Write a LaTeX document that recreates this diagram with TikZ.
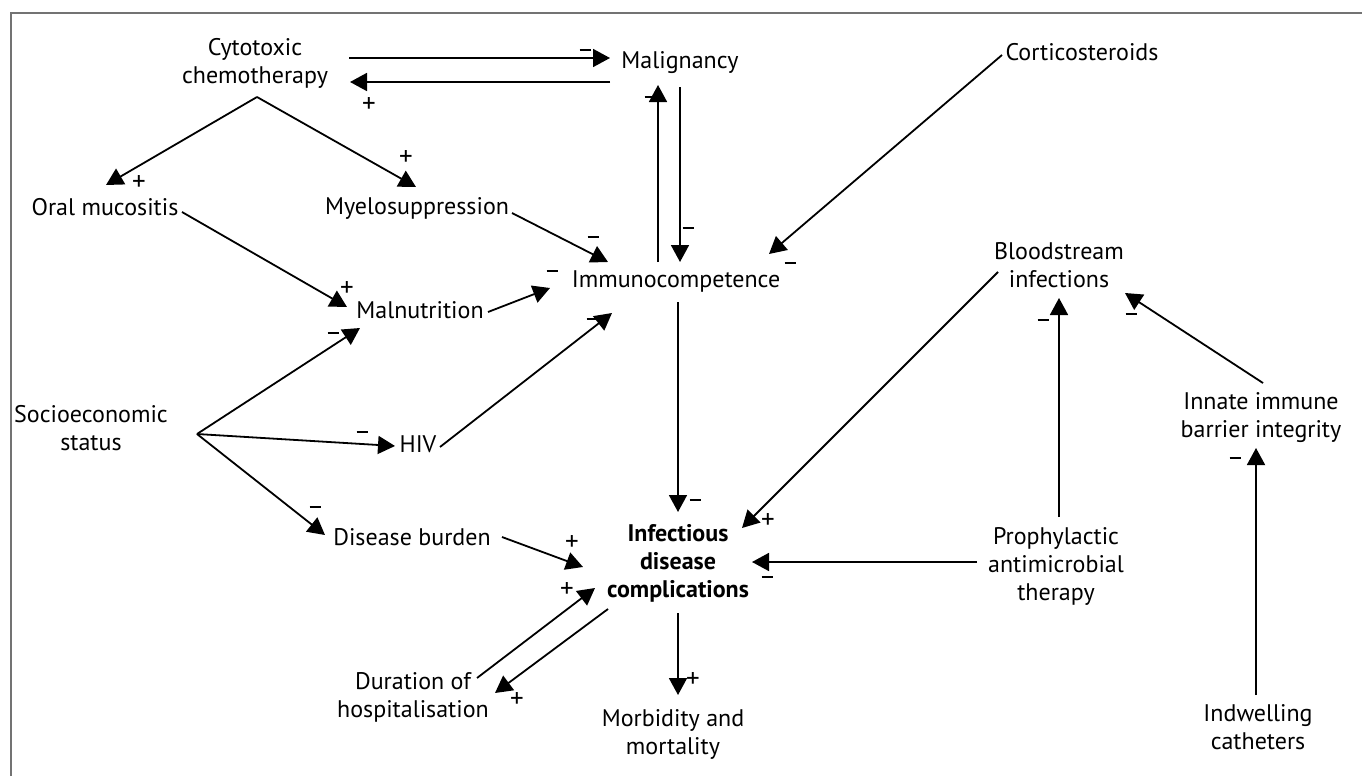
\documentclass[tikz,border=0pt]{standalone}
\usepackage{fontspec}
\setmainfont{PT Sans}
\usetikzlibrary{arrows.meta,calc}
\newcommand{\mns}{\rule{11pt}{2pt}}
\begin{document}
\begin{tikzpicture}[x=1pt,y=-1pt,
  lbl/.style={font=\fontsize{24}{28}\selectfont, align=center, inner sep=0pt},
  sgn/.style={font=\fontsize{27}{27}\selectfont, inner sep=0pt},
  arr/.style={line width=1.8pt, -{Triangle[length=17pt,width=18pt]}},
  frame/.style={draw=black!55, line width=1.5pt}]
\useasboundingbox (0,0) rectangle (1362,776);
\draw[frame] (11,776) -- (11,13) -- (1362,13);
% nodes
\node[lbl] (chemo) at (255,63) {Cytotoxic\\chemotherapy};
\node[lbl] (malig) at (680,63) {Malignancy};
\node[lbl] (cortico) at (1082,52) {Corticosteroids};
\node[lbl] (oral) at (105,207) {Oral mucositis};
\node[lbl] (myelo) at (417,208) {Myelosuppression};
\node[lbl] (immuno) at (676,281) {Immunocompetence};
\node[lbl] (malnut) at (420,310) {Malnutrition};
\node[lbl] (blood) at (1059,265) {Bloodstream\\infections};
\node[lbl] (innate) at (1261,418) {Innate immune\\barrier integrity};
\node[lbl] (socio) at (91,428) {Socioeconomic\\status};
\node[lbl] (hiv) at (418,444) {HIV};
\node[lbl] (disease) at (412,537) {Disease burden};
\node[lbl,font=\fontsize{24}{28}\selectfont\bfseries] (infect) at (678,563) {Infectious\\disease\\complications};
\node[lbl] (proph) at (1056,566) {Prophylactic\\antimicrobial\\therapy};
\node[lbl] (duration) at (413,697) {Duration of\\hospitalisation};
\node[lbl] (morb) at (673,734) {Morbidity and\\mortality};
\node[lbl] (indwell) at (1258,727) {Indwelling\\catheters};
% connectors
\draw[arr] ([shift={(94,-5)}]chemo.center) -- ([shift={(-70,-5)}]malig.center);
\draw[arr] ([shift={(-70,19)}]malig.center) -- ([shift={(95,19)}]chemo.center);
\draw[arr] ([shift={(2,34)}]chemo.center) -- ([shift={(1,-22)}]oral.center);
\draw[arr] ([shift={(2,34)}]chemo.center) -- ([shift={(-1,-21)}]myelo.center);
\draw[arr] ([shift={(77,5)}]oral.center) -- ([shift={(-73,-3)}]malnut.center);
\draw[arr] ([shift={(95,5)}]myelo.center) -- ([shift={(-68,-19)}]immuno.center);
\draw[arr] ([shift={(-18,-19)}]immuno.center) -- ([shift={(-22,22)}]malig.center);
\draw[arr] ([shift={(0,24)}]malig.center) -- ([shift={(4,-19)}]immuno.center);
\draw[arr] ([shift={(68,2)}]malnut.center) -- ([shift={(-126,7)}]immuno.center);
\draw[arr] ([shift={(-80,3)}]cortico.center) -- ([shift={(93,-27)}]immuno.center);
\draw[arr] ([shift={(-61,7)}]blood.center) -- ([shift={(64,-35)}]infect.center);
\draw[arr] ([shift={(3,-49)}]proph.center) -- ([shift={(0,33)}]blood.center);
\draw[arr] ([shift={(2,-35)}]innate.center) -- ([shift={(66,28)}]blood.center);
\draw[arr] ([shift={(-2,-32)}]indwell.center) -- ([shift={(-5,30)}]innate.center);
\draw[arr] ([shift={(-79,-4)}]proph.center) -- ([shift={(74,-1)}]infect.center);
\draw[arr] ([shift={(2,21)}]immuno.center) -- ([shift={(0,-51)}]infect.center);
\draw[arr] ([shift={(0,50)}]infect.center) -- ([shift={(5,-39)}]morb.center);
\draw[arr] ([shift={(106,6)}]socio.center) -- ([shift={(-60,18)}]malnut.center);
\draw[arr] ([shift={(106,6)}]socio.center) -- ([shift={(-23,2)}]hiv.center);
\draw[arr] ([shift={(106,6)}]socio.center) -- ([shift={(-87,-2)}]disease.center);
\draw[arr] ([shift={(22,3)}]hiv.center) -- ([shift={(-64,32)}]immuno.center);
\draw[arr] ([shift={(90,0)}]disease.center) -- ([shift={(-95,4)}]infect.center);
\draw[arr] ([shift={(64,-19)}]duration.center) -- ([shift={(-83,25)}]infect.center);
\draw[arr] ([shift={(-70,46)}]infect.center) -- ([shift={(82,-4)}]duration.center);
% signs
\node[sgn] (s1) at (585,50) {\mns};
\node[sgn] (s2) at (369,105) {+};
\node[sgn] (s3) at (139,183) {+};
\node[sgn] (s4) at (406,158) {+};
\node[sgn] (s5) at (347,289) {+};
\node[sgn] (s6) at (593,237) {\mns};
\node[sgn] (s7) at (650,97) {\mns};
\node[sgn] (s8) at (688,228) {\mns};
\node[sgn] (s9) at (552,271) {\mns};
\node[sgn] (s10) at (790,263) {\mns};
\node[sgn] (s11) at (768,521) {+};
\node[sgn] (s12) at (1043,320) {\mns};
\node[sgn] (s13) at (1131,314) {\mns};
\node[sgn] (s14) at (1235,458) {\mns};
\node[sgn] (s15) at (767,577) {\mns};
\node[sgn] (s16) at (695,500) {\mns};
\node[sgn] (s17) at (693,680) {+};
\node[sgn] (s18) at (333,333) {\mns};
\node[sgn] (s19) at (362,432) {\mns};
\node[sgn] (s20) at (315,507) {\mns};
\node[sgn] (s21) at (592,319) {\mns};
\node[sgn] (s22) at (572,543) {+};
\node[sgn] (s23) at (567,590) {+};
\node[sgn] (s24) at (517,700) {+};
\end{tikzpicture}
\end{document}
